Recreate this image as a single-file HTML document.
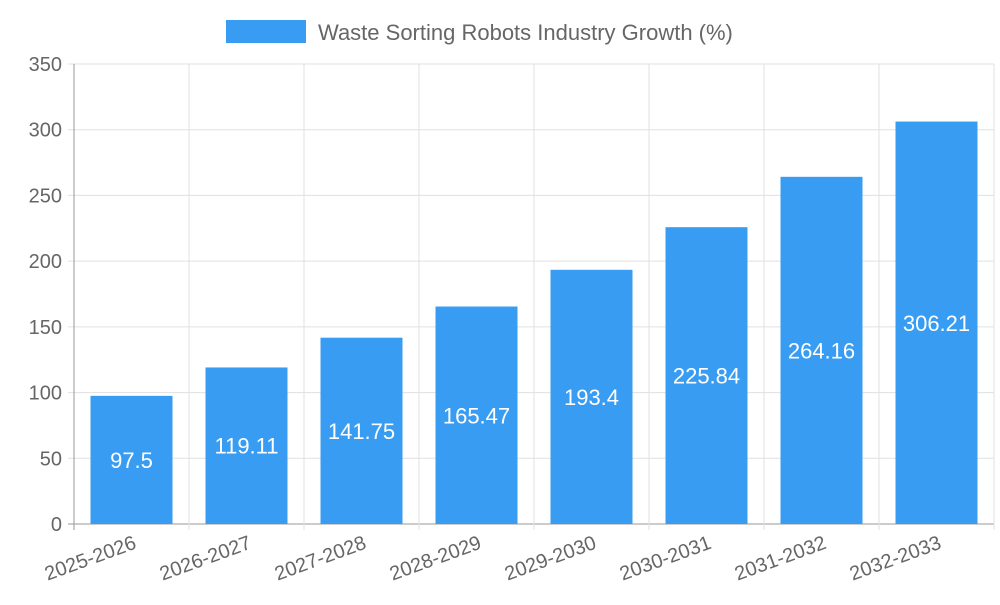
<!DOCTYPE html>
<html><head><meta charset="utf-8"><style>
body{margin:0;background:#fff;}
svg{font-family:"Liberation Sans",sans-serif;}
</style></head><body>
<svg width="1000" height="600">
<g>
<rect x="226" y="20" width="80" height="23" fill="#389cf2"/>
<text x="318" y="40" font-size="22" fill="#666">Waste Sorting Robots Industry Growth (%)</text>
</g>
<g id="grid"></g><g id="bars"></g><g id="axes"></g>
</svg>
<script>
const categories=["2025-2026","2026-2027","2027-2028","2028-2029","2029-2030","2030-2031","2031-2032","2032-2033"];
const values=[97.5,119.11,141.75,165.47,193.4,225.84,264.16,306.21];
const yTicks=[0,50,100,150,200,250,300,350];
const L=74,R=994,T=64,B=524,yMax=350;
const band=(R-L)/categories.length;
const y=v=>B-(v/yMax)*(B-T);
const ns="http://www.w3.org/2000/svg";
function mk(tag,attrs,parent){const e=document.createElementNS(ns,tag);for(const k in attrs)e.setAttribute(k,attrs[k]);parent.appendChild(e);return e;}
const grid=document.getElementById('grid'),bars=document.getElementById('bars'),axes=document.getElementById('axes');
yTicks.forEach(t=>{
  const l=mk('line',{x1:L-6,x2:R,y1:y(t),y2:y(t),stroke:t===0?'#999':'#e0e0e0'},grid);
  
  
  const tx=mk('text',{x:L-12,y:y(t)+7,'font-size':20,fill:'#666','text-anchor':'end'},axes);
  tx.textContent=t;
  
  
});
for(let i=0;i<=categories.length;i++){
  const x=L+i*band;
  const l=mk('line',{x1:x,x2:x,y1:T,y2:B+6,stroke:i===0?'#999':'#e0e0e0'},grid);
  
  
}
categories.forEach((c,i)=>{
  const cx=L+band*(i+0.5),w=82;
  const r=mk('rect',{x:cx-w/2,y:y(values[i]),width:w,height:B-y(values[i]),fill:'#389cf2'},bars);
  
  
  const t=mk('text',{x:cx,y:(y(values[i])+B)/2+8,'font-size':22,fill:'#fff','text-anchor':'middle'},bars);
  t.textContent=values[i];
  
  
  const xl=mk('text',{x:cx+6,y:B+24,'font-size':20,fill:'#666','text-anchor':'end',transform:`rotate(-20 ${cx+6} ${B+24})`},axes);
  xl.textContent=c;
  
  
});
</script>
</body></html>
